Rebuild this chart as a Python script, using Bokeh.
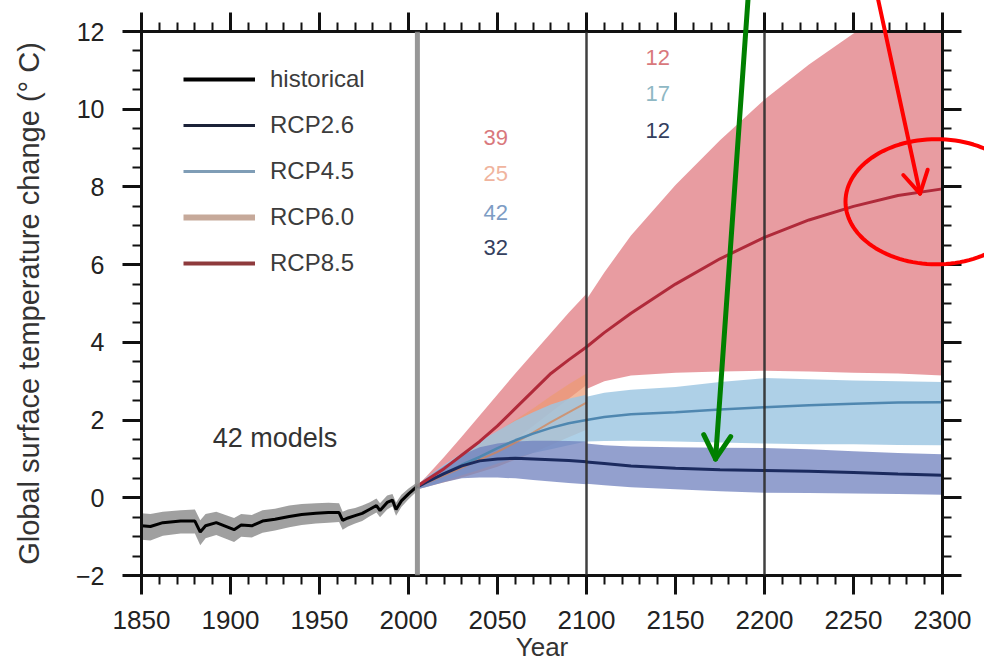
import numpy as np
from bokeh.plotting import figure
from bokeh.models import (Range1d, LinearAxis, SingleIntervalTicker, Span, Legend, LegendItem,
                          CustomJSTickFormatter)
from bokeh.core.properties import value
from bokeh.embed import file_html
from bokeh.resources import INLINE

FONT = "Liberation Sans"

# ---------------- data ----------------
hist_years = [1850, 1855, 1862, 1872, 1880, 1883, 1886, 1892, 1902, 1906, 1912, 1918, 1925, 1933,
              1940, 1948, 1955, 1961, 1963, 1966, 1970, 1974, 1978, 1982, 1984, 1988, 1991, 1993,
              1996, 2000, 2005]
hist_mean = [-0.72, -0.74, -0.64, -0.60, -0.60, -0.88, -0.72, -0.64, -0.82, -0.70, -0.72, -0.60,
             -0.55, -0.48, -0.43, -0.40, -0.38, -0.38, -0.58, -0.52, -0.46, -0.40, -0.30, -0.20,
             -0.33, -0.12, -0.06, -0.30, -0.08, 0.10, 0.30]
hist_hi = [-0.40, -0.42, -0.36, -0.32, -0.30, -0.58, -0.42, -0.36, -0.52, -0.42, -0.44, -0.32,
           -0.28, -0.20, -0.16, -0.14, -0.13, -0.14, -0.36, -0.30, -0.26, -0.20, -0.12, -0.02,
           -0.14, 0.06, 0.10, -0.12, 0.08, 0.24, 0.40]
hist_lo = [-1.08, -1.10, -0.98, -0.92, -0.92, -1.22, -1.04, -0.96, -1.14, -1.00, -1.02, -0.90,
           -0.84, -0.76, -0.70, -0.66, -0.64, -0.62, -0.82, -0.74, -0.66, -0.60, -0.48, -0.38,
           -0.50, -0.30, -0.22, -0.46, -0.24, -0.04, 0.18]

# 2005-2100 projections
proj_years = [2005, 2010, 2020, 2030, 2040, 2050, 2060, 2070, 2080, 2090, 2100]
rcp85_mean = [0.30, 0.45, 0.75, 1.10, 1.45, 1.85, 2.30, 2.75, 3.20, 3.55, 3.88]
rcp85_hi = [0.32, 0.55, 1.05, 1.58, 2.12, 2.66, 3.20, 3.72, 4.24, 4.76, 5.25]
rcp85_lo = [0.22, 0.30, 0.50, 0.72, 0.95, 1.20, 1.50, 1.85, 2.20, 2.55, 2.90]
rcp60_mean = [0.28, 0.38, 0.58, 0.78, 0.98, 1.18, 1.42, 1.68, 1.95, 2.20, 2.45]
rcp60_hi = [0.32, 0.48, 0.80, 1.10, 1.40, 1.70, 2.00, 2.30, 2.62, 2.92, 3.20]
rcp60_lo = [0.22, 0.28, 0.40, 0.52, 0.66, 0.80, 0.98, 1.16, 1.36, 1.56, 1.75]
rcp45_mean = [0.28, 0.40, 0.62, 0.85, 1.05, 1.28, 1.48, 1.65, 1.80, 1.92, 2.00]
rcp45_hi = [0.32, 0.52, 0.85, 1.15, 1.45, 1.72, 1.98, 2.20, 2.40, 2.55, 2.65]
rcp45_lo = [0.22, 0.28, 0.42, 0.58, 0.72, 0.88, 1.02, 1.15, 1.25, 1.35, 1.45]
rcp26_mean = [0.28, 0.40, 0.62, 0.82, 0.95, 1.00, 1.02, 1.00, 0.98, 0.96, 0.93]
rcp26_hi = [0.32, 0.50, 0.82, 1.10, 1.30, 1.40, 1.45, 1.47, 1.47, 1.46, 1.45]
rcp26_lo = [0.22, 0.28, 0.40, 0.50, 0.52, 0.52, 0.50, 0.46, 0.42, 0.38, 0.35]

# 2100-2300 extensions
ext_years = [2100, 2110, 2125, 2150, 2175, 2200, 2225, 2250, 2275, 2300]
ext85_mean = [3.88, 4.25, 4.75, 5.50, 6.15, 6.70, 7.15, 7.50, 7.78, 7.95]
ext85_hi = [5.10, 5.80, 6.75, 8.05, 9.20, 10.25, 11.15, 11.95, 12.50, 12.90]
ext85_lo = [2.80, 3.00, 3.15, 3.22, 3.25, 3.27, 3.25, 3.22, 3.20, 3.15]
ext45_mean = [2.00, 2.08, 2.15, 2.20, 2.27, 2.33, 2.38, 2.42, 2.45, 2.46]
ext45_hi = [2.60, 2.70, 2.78, 2.85, 2.98, 3.08, 3.05, 3.02, 3.00, 2.98]
ext45_lo = [1.45, 1.46, 1.47, 1.45, 1.42, 1.40, 1.38, 1.38, 1.36, 1.35]
ext26_mean = [0.92, 0.88, 0.82, 0.76, 0.72, 0.70, 0.68, 0.65, 0.61, 0.58]
ext26_hi = [1.40, 1.35, 1.32, 1.30, 1.29, 1.28, 1.25, 1.20, 1.15, 1.12]
ext26_lo = [0.36, 0.32, 0.27, 0.22, 0.17, 0.13, 0.12, 0.11, 0.10, 0.08]

# period boundaries
boundary_years = [2005, 2100, 2200]

# model counts
counts_2100 = ["39", "25", "42", "32"]
counts_2300 = ["12", "17", "12"]
models_text = "42 models"

legend_labels = ["historical", "RCP2.6", "RCP4.5", "RCP6.0", "RCP8.5"]

# ---------------- positions / styles ----------------
counts_2100_x = [2049, 2049, 2049, 2049]
counts_2100_y = [9.27, 8.35, 7.34, 6.44]
counts_2100_col = ["#d9787c", "#f0b49e", "#7d9cc4", "#34405e"]
counts_2300_x = [2140, 2140, 2140]
counts_2300_y = [11.33, 10.40, 9.45]
counts_2300_col = ["#d9787c", "#8fb8c4", "#34405e"]

# highlight marks (annotation overlay): arrows (start -> tip) and ellipse, in data units
green_arrow = ((2191.0, 13.0), (2172.5, 1.0))
red_arrow = ((2263.0, 13.0), (2287.4, 7.83))
ellipse_center, ellipse_radii = (2296.6, 7.62), (51.1, 1.61)

C85_BAND, C85_LINE = "#e3868c", "#b02a3a"
C60_BAND, C60_LINE = "#ec9a72", "#d9824f"
C45_BAND, C45_LINE = "#9cc6e2", "#4f87b0"
C26_BAND, C26_LINE = "#6f80bd", "#1b2a5e"
BAND_ALPHA = 0.82

W, H = 984, 670
BL, BR, BT, BB = 141, 42, 31, 95
X0, X1, Y0, Y1 = 1850, 2300, -2, 12

p = figure(width=W, height=H, output_backend="svg", toolbar_location=None,
           x_range=Range1d(X0, X1), y_range=Range1d(Y0, Y1),
           min_border_left=BL, min_border_right=BR, min_border_top=BT, min_border_bottom=BB,
           x_axis_label="Year", y_axis_label="Global surface temperature change (\u00b0 C)")
p.outline_line_color = None
p.xgrid.visible = False
p.ygrid.visible = False
p.background_fill_color = "white"
p.border_fill_color = "white"

# bands
p.varea(x=hist_years, y1=hist_lo, y2=hist_hi, fill_color="#808080", fill_alpha=0.75)
p.varea(x=proj_years, y1=rcp85_lo, y2=rcp85_hi, fill_color=C85_BAND, fill_alpha=BAND_ALPHA)
p.varea(x=ext_years, y1=ext85_lo, y2=ext85_hi, fill_color=C85_BAND, fill_alpha=BAND_ALPHA)
p.varea(x=proj_years, y1=rcp60_lo, y2=rcp60_hi, fill_color=C60_BAND, fill_alpha=0.7)
p.varea(x=proj_years, y1=rcp45_lo, y2=rcp45_hi, fill_color=C45_BAND, fill_alpha=BAND_ALPHA)
p.varea(x=ext_years, y1=ext45_lo, y2=ext45_hi, fill_color=C45_BAND, fill_alpha=BAND_ALPHA)
p.varea(x=proj_years, y1=rcp26_lo, y2=rcp26_hi, fill_color=C26_BAND, fill_alpha=0.75)
p.varea(x=ext_years, y1=ext26_lo, y2=ext26_hi, fill_color=C26_BAND, fill_alpha=0.75)

# mean lines
p.line(proj_years, rcp60_mean, line_color=C60_LINE, line_width=2, line_alpha=0.7)
p.line(proj_years, rcp45_mean, line_color=C45_LINE, line_width=2.5)
p.line(ext_years, ext45_mean, line_color=C45_LINE, line_width=2.5)
p.line(proj_years, rcp26_mean, line_color=C26_LINE, line_width=3)
p.line(ext_years, ext26_mean, line_color=C26_LINE, line_width=3)
p.line(proj_years, rcp85_mean, line_color=C85_LINE, line_width=3)
p.line(ext_years, ext85_mean, line_color=C85_LINE, line_width=3)
p.line(hist_years, hist_mean, line_color="black", line_width=3)

# boundaries
for yr, col, w in zip(boundary_years, ["#8c8c8c", "#2b2b2b", "#2b2b2b"], [5, 2.5, 2.5]):
    p.add_layout(Span(location=yr, dimension="height", line_color=col, line_width=w, line_alpha=0.9))

# texts
p.text(x=counts_2100_x, y=counts_2100_y, text=counts_2100, text_color=counts_2100_col,
       text_font=value(FONT), text_font_size="22px", text_align="center", text_baseline="middle")
p.text(x=counts_2300_x, y=counts_2300_y, text=counts_2300, text_color=counts_2300_col,
       text_font=value(FONT), text_font_size="22px", text_align="center", text_baseline="middle")
p.text(x=[1925], y=[1.55], text=[models_text], text_color="#333333",
       text_font=value(FONT), text_font_size="27px", text_align="center", text_baseline="middle")

# legend (style renderers, one placeholder point each)
leg_styles = [("black", 4), ("#1b2238", 3), ("#7f9db6", 3), ("#c6a99a", 6), ("#8e3a3c", 4)]
items = []
for lab, (col, w) in zip(legend_labels, leg_styles):
    r = p.line(x=[np.nan], y=[np.nan], line_color=col, line_width=w)
    items.append(LegendItem(label=lab, renderers=[r]))
legend = Legend(items=items, location=(42, 298), glyph_width=72, glyph_height=28, label_height=28,
                spacing=18, label_standoff=15, padding=0, margin=0, border_line_color=None,
                background_fill_alpha=0, label_text_font=FONT, label_text_font_size="24px",
                label_text_color="#3c3c3c")
p.add_layout(legend)

# axes
def style_axis(ax, labels=True):
    ax.axis_line_width = 3
    ax.axis_line_color = "#111111"
    ax.major_tick_line_width = 3
    ax.minor_tick_line_width = 2
    ax.major_tick_line_color = "#111111"
    ax.minor_tick_line_color = "#111111"
    ax.major_tick_out = 19
    ax.major_tick_in = 0
    ax.minor_tick_out = 9
    ax.minor_tick_in = 0
    ax.major_label_text_font = FONT
    ax.axis_label_text_font = FONT
    ax.axis_label_text_font_style = "normal"
    ax.major_label_text_color = "#222222"
    ax.axis_label_text_color = "#333333"
    if not labels:
        ax.formatter = CustomJSTickFormatter(code="return ''")
        ax.major_label_standoff = 0

p.xaxis.ticker = SingleIntervalTicker(interval=50, num_minor_ticks=5)
p.yaxis.ticker = SingleIntervalTicker(interval=2, num_minor_ticks=4)
for ax in p.xaxis:
    style_axis(ax)
    ax.major_label_text_font_size = "26px"
    ax.major_label_standoff = 16
    ax.axis_label_text_font_size = "26px"
    ax.axis_label_standoff = 0
for ax in p.yaxis:
    style_axis(ax)
    ax.major_label_text_font_size = "25px"
    ax.major_label_standoff = 18
    ax.axis_label_text_font_size = "29px"
    ax.axis_label_standoff = 28

top = LinearAxis(ticker=SingleIntervalTicker(interval=50, num_minor_ticks=5))
style_axis(top, labels=False)
p.add_layout(top, "above")
right = LinearAxis(ticker=SingleIntervalTicker(interval=2, num_minor_ticks=4))
style_axis(right, labels=False)
p.add_layout(right, "right")

# ---- highlight overlay (drawn at overlay level so it may cross the frame edge) ----
fw, fh = W - BL - BR, H - BT - BB
kx, ky = fw / (X1 - X0), fh / (Y1 - Y0)   # pixels per data unit

def arrow_paths(start, tip, head_px, spread_deg=30):
    (xs0, ys0), (xt, yt) = start, tip
    dx, dy = (xs0 - xt) * kx, (ys0 - yt) * ky
    n = np.hypot(dx, dy)
    ux, uy = dx / n, dy / n
    paths_x, paths_y = [[xs0, xt]], [[ys0, yt]]
    for a in (np.radians(spread_deg), -np.radians(spread_deg)):
        rx = ux * np.cos(a) - uy * np.sin(a)
        ry = ux * np.sin(a) + uy * np.cos(a)
        paths_x.append([xt + rx * head_px / kx, xt])
        paths_y.append([yt + ry * head_px / ky, yt])
    return paths_x, paths_y

gx, gy = arrow_paths(*green_arrow, head_px=27)
p.multi_line(xs=gx, ys=gy, line_color="#008000", line_width=5, line_cap="round",
             line_join="round", level="overlay")
rx_, ry_ = arrow_paths(*red_arrow, head_px=25)
p.multi_line(xs=rx_, ys=ry_, line_color="#ff0000", line_width=4, line_cap="round",
             line_join="round", level="overlay")
t = np.linspace(0, 2 * np.pi, 121)
p.line(x=ellipse_center[0] + ellipse_radii[0] * np.cos(t),
       y=ellipse_center[1] + ellipse_radii[1] * np.sin(t),
       line_color="#ff0000", line_width=4, level="overlay")

open("out.html", "w").write(file_html(p, INLINE))
